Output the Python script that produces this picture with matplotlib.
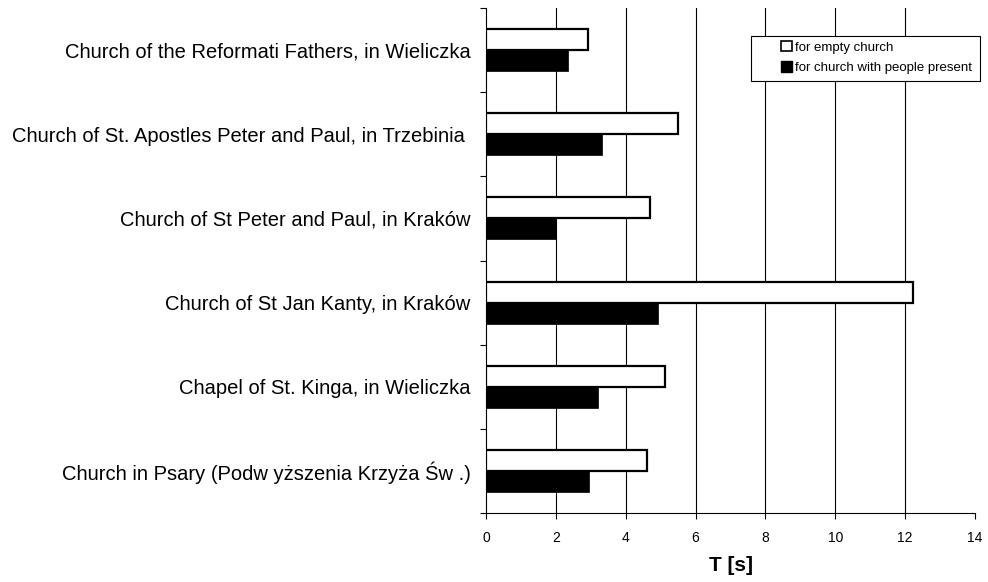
import matplotlib
matplotlib.use("Agg")
import matplotlib.pyplot as plt
import numpy as np
from matplotlib.patches import Patch, Rectangle

plt.rcParams['font.family'] = ['Liberation Sans', 'DejaVu Sans']

categories = [
    "Church of the Reformati Fathers, in Wieliczka",
    "Church of St. Apostles Peter and Paul, in Trzebinia ",
    "Church of St Peter and Paul, in Kraków",
    "Church of St Jan Kanty, in Kraków",
    "Chapel of St. Kinga, in Wieliczka",
    "Church in Psary (Podw yższenia Krzyża Św .)",
]
empty_church = [2.92, 5.5, 4.7, 12.22, 5.12, 4.6]
with_people = [2.35, 3.31, 2.0, 4.92, 3.21, 2.95]
xticks = [0, 2, 4, 6, 8, 10, 12, 14]
xlabel = "T [s]"
legend_labels = ["for empty church", "for church with people present"]

W, H = 988, 582
fig = plt.figure(figsize=(W / 100, H / 100), dpi=100)
ax = fig.add_axes([486 / W, 1 - 513 / H, (975 - 486) / W, (513 - 8) / H])

n = len(categories)
y = np.arange(n)[::-1].astype(float)
h = 0.25
ax.barh(y + h / 2, empty_church, height=h, color='white', edgecolor='black', linewidth=1.6, zorder=3)
ax.barh(y - h / 2, with_people, height=h, color='black', edgecolor='black', linewidth=0.5, zorder=3)

ax.set_ylim(-0.5, n - 0.5)
ax.set_xlim(0, 14)
ax.set_xticks(xticks)
ax.set_xticklabels([str(t) for t in xticks], fontsize=10)
ax.set_yticks(y)
ax.set_yticklabels(categories, fontsize=14.5)
ax.set_yticks(np.arange(-0.5, n, 1.0), minor=True)
ax.tick_params(axis='y', which='major', length=0, pad=11)
ax.tick_params(axis='y', which='minor', length=4, direction='out', width=0.8)
ax.tick_params(axis='x', length=4, direction='out', width=0.8, pad=9)

for t in xticks[1:-1]:
    ax.axvline(t, color='black', linewidth=0.8, zorder=1)

for s in ['top', 'right']:
    ax.spines[s].set_visible(False)
ax.spines['left'].set_linewidth(0.8)
ax.spines['bottom'].set_linewidth(0.8)

ax.set_xlabel(xlabel, fontsize=15, fontweight='bold', labelpad=8)

# legend frame
frame = Rectangle((751 / W, 1 - 81 / H), (980 - 751) / W, (81 - 36) / H,
                  transform=fig.transFigure, facecolor='white', edgecolor='black',
                  linewidth=0.8, zorder=9)
fig.patches.append(frame)

handles = [Patch(facecolor='white', edgecolor='black', linewidth=1.2),
           Patch(facecolor='black', edgecolor='black')]
leg = fig.legend(handles, legend_labels, loc='upper left', bbox_to_anchor=(777 / W, 1 - 37 / H),
                 fontsize=9.5, frameon=False, borderpad=0.3,
                 handlelength=0.85, handleheight=0.85, handletextpad=0.2, labelspacing=0.55,
                 borderaxespad=0)
leg.set_zorder(10)

fig.savefig("out.png", dpi=100)
